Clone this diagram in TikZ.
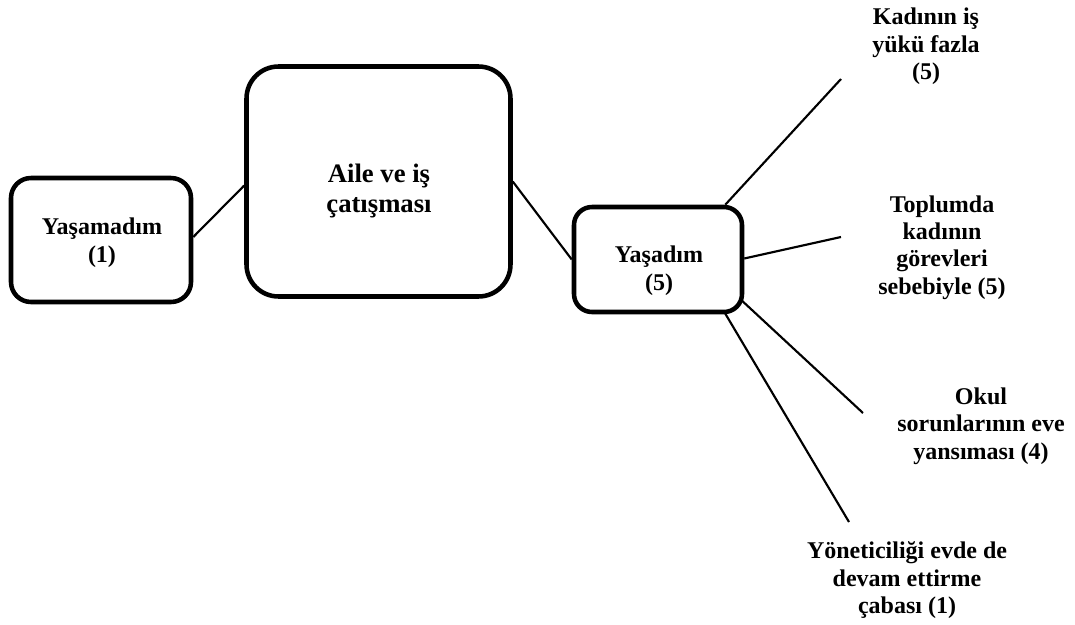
\documentclass[tikz,border=0pt]{standalone}
\usepackage{fontspec}
\setmainfont{Liberation Serif}
\usetikzlibrary{calc,backgrounds}

\begin{document}
\begin{tikzpicture}[
    x=0.75pt, y=-0.75pt,
    box/.style={draw=black, line width=3.4pt, fill=white, inner sep=0pt,
                rectangle},
    txt/.style={align=center, inner sep=0pt,
                font=\bfseries\fontsize{18}{20.6}\selectfont},
    bigtxt/.style={txt, font=\bfseries\fontsize{20}{22.6}\selectfont},
    link/.style={draw=black, line width=1.6pt}
  ]
  \useasboundingbox (0,0) rectangle (1075,625);

  % boxes
  \node[box, rounded corners=15pt, minimum width=135pt, minimum height=93pt]
    (yam) at (101,240) {};
  \node[box, rounded corners=24pt, minimum width=198pt, minimum height=172.5pt]
    (aile) at (378.5,181.5) {};
  \node[box, rounded corners=13.5pt, minimum width=126pt, minimum height=78.75pt]
    (yas) at (658,259.5) {};

  % texts inside the boxes
  \node[txt]    (yamT)  at (102,242.5) {Yaşamadım\\(1)};
  \node[bigtxt] (aileT) at (379,191)   {Aile ve iş\\çatışması};
  \node[txt]    (yasT)  at (659,270.5) {Yaşadım\\(5)};

  % branch labels
  \node[txt] (kad) at (926,46.5)  {Kadının iş\\yükü fazla\\(5)};
  \node[txt] (top) at (942,247.5) {Toplumda\\kadının\\görevleri\\sebebiyle (5)};
  \node[txt] (oku) at (981,426)   {Okul\\sorunlarının eve\\yansıması (4)};
  \node[txt] (yon) at (907,580.5) {Yöneticiliği evde de\\devam ettirme\\çabası (1)};

  % free ends of the branch lines
  \coordinate (kEnd) at (841,79);
  \coordinate (tEnd) at (841,237);
  \coordinate (oEnd) at (863,413);
  \coordinate (yEnd) at (849,522);

  \begin{pgfonlayer}{background}
    \draw[link] ($(yam.east)+(0,-3)$) -- ($(aile.west)+(0,4)$);
    \draw[link] (aile.east) -- (yas.west);
    \draw[link] ($(yas.north east)+(-19,0)$) -- (kEnd);
    \draw[link] ($(yas.east)+(0,-1)$) -- (tEnd);
    \draw[link] ($(yas.south east)+(-6,-17)$) -- (oEnd);
    \draw[link] ($(yas.south east)+(-21,-4)$) -- (yEnd);
  \end{pgfonlayer}
\end{tikzpicture}
\end{document}
